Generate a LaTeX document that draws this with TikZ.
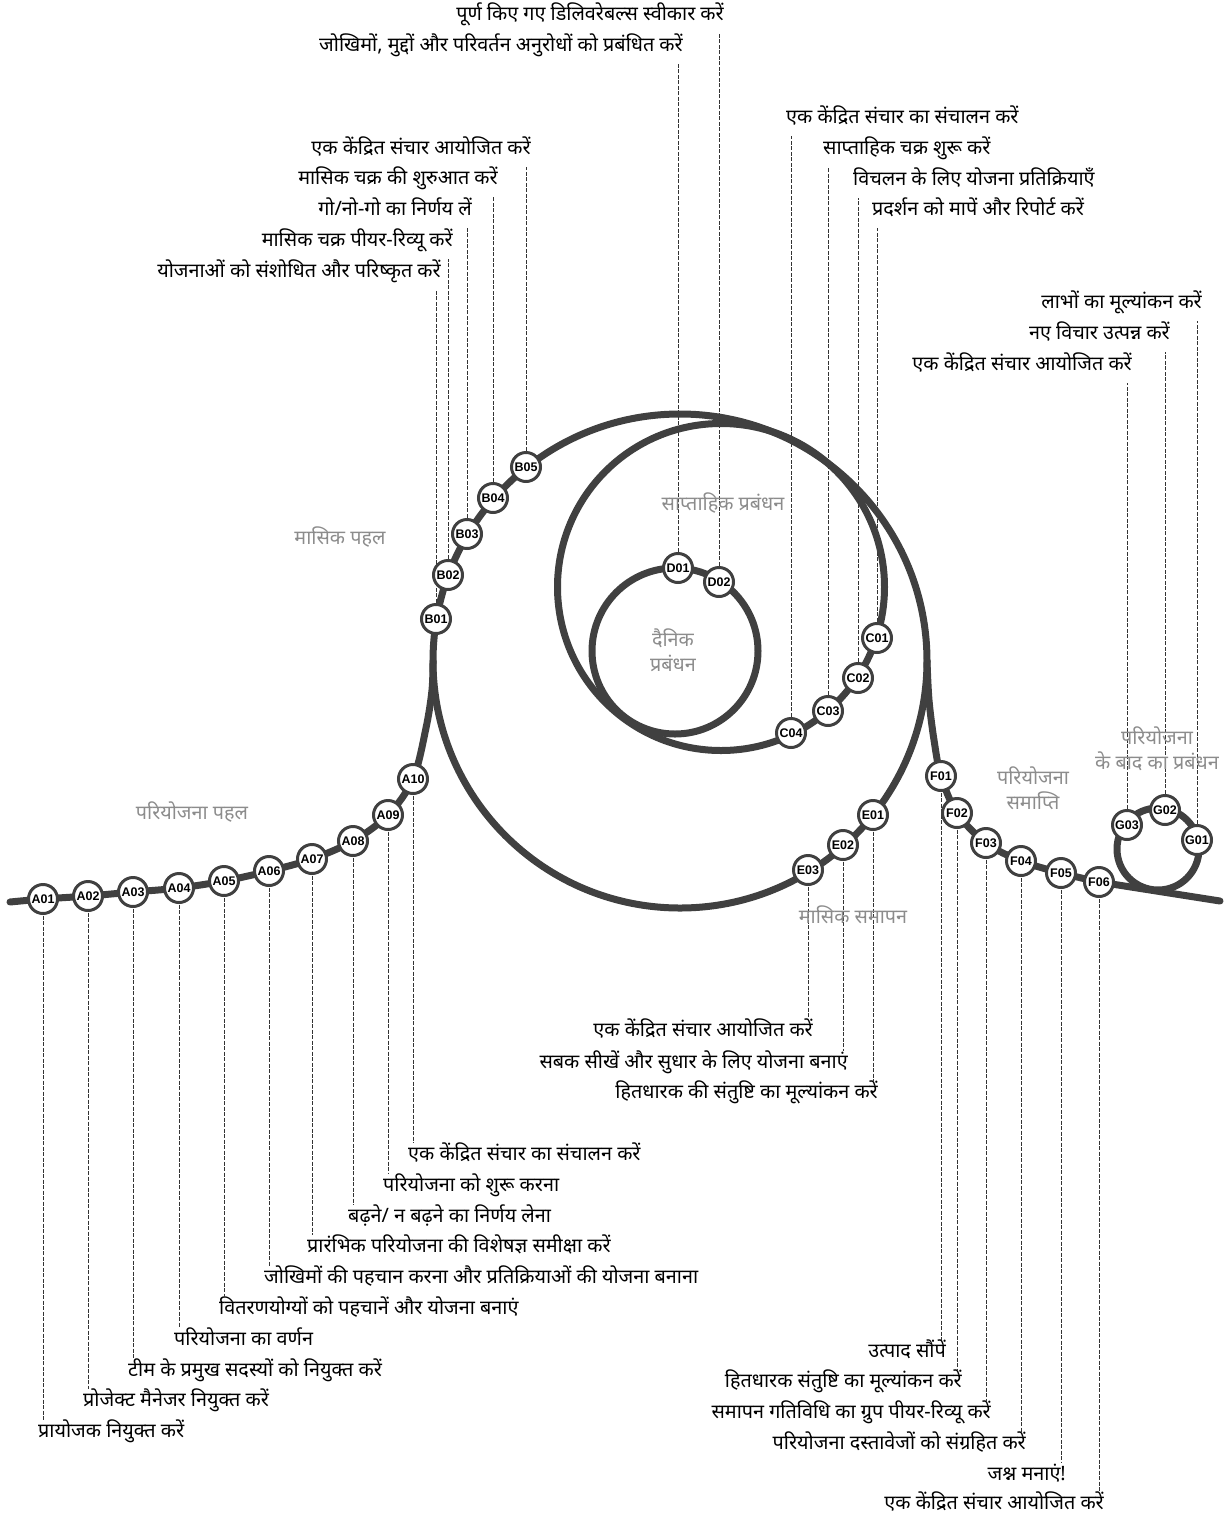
\documentclass[tikz,border=0pt]{standalone}
\usepackage{fontspec}
\newfontfamily\deva[Script=Devanagari]{Noto Sans}
\newfontfamily\codefont{Liberation Sans}
\usetikzlibrary{calc}
\definecolor{trackc}{HTML}{404040}
\definecolor{leadc}{HTML}{333333}
\definecolor{phasec}{HTML}{8C8C8C}
\tikzset{
  track/.style={draw=trackc, line width=7pt, line cap=round},
  stopnode/.style={circle, draw=trackc, fill=white, line width=3pt, minimum size=29pt, inner sep=0pt, font=\codefont\bfseries\fontsize{12.5}{12.5}\selectfont},
  leader/.style={draw=leadc, line width=0.8pt, dash pattern=on 4pt off 1.5pt},
  lbl/.style={font=\deva\fontsize{19.8}{22}\selectfont, inner sep=0pt, text height=14pt, text depth=6pt},
  phaselbl/.style={font=\deva\fontsize{19.8}{25}\selectfont, text=phasec, align=center, inner sep=0pt}
}
\begin{document}
\begin{tikzpicture}[x=1pt,y=-1pt]
\useasboundingbox (0,0) rectangle (1229,1519);
% stop positions
\foreach \n/\x/\y in {A01/43/899,A02/88/896,A03/133/892,A04/179/888,A05/224/881,A06/269/871,A07/312/859,A08/353/841,A09/388/815,A10/413/779,
  B01/436/619,B02/448/575,B03/467/534,B04/493/498,B05/526/467,
  C01/877/638,C02/858/678,C03/828/711,C04/791/733,
  D01/678/568,D02/719/582,
  E01/873/815,E02/843/845,E03/808/870,
  F01/941/776,F02/957/813,F03/986/843,F04/1021/861,F05/1061/873,F06/1099/882,
  G01/1197/840,G02/1165/810,G03/1127/825}
  \coordinate (p\n) at (\x,\y);

% labels: project initiation
\node[lbl,anchor=west] (tA01) at (38,1433) {प्रायोजक नियुक्त करें};
\node[lbl,anchor=west] (tA02) at (83,1402) {प्रोजेक्ट मैनेजर नियुक्त करें};
\node[lbl,anchor=west] (tA03) at (128,1372) {टीम के प्रमुख सदस्यों को नियुक्त करें};
\node[lbl,anchor=west] (tA04) at (174,1341) {परियोजना का वर्णन};
\node[lbl,anchor=west] (tA05) at (219,1310) {वितरणयोग्यों को पहचानें और योजना बनाएं};
\node[lbl,anchor=west] (tA06) at (264,1279) {जोखिमों की पहचान करना और प्रतिक्रियाओं की योजना बनाना};
\node[lbl,anchor=west] (tA07) at (307,1248) {प्रारंभिक परियोजना की विशेषज्ञ समीक्षा करें};
\node[lbl,anchor=west] (tA08) at (348,1218) {बढ़ने/ न बढ़ने का निर्णय लेना};
\node[lbl,anchor=west] (tA09) at (383,1187) {परियोजना को शुरू करना};
\node[lbl,anchor=west] (tA10) at (408,1156) {एक केंद्रित संचार का संचालन करें};
% monthly closing
\node[lbl,anchor=east] (tE03) at (813,1032) {एक केंद्रित संचार आयोजित करें};
\node[lbl,anchor=east] (tE02) at (848,1064) {सबक सीखें और सुधार के लिए योजना बनाएं};
\node[lbl,anchor=east] (tE01) at (878,1094) {हितधारक की संतुष्टि का मूल्यांकन करें};
% project closing
\node[lbl,anchor=east] (tF01) at (946,1353) {उत्पाद सौंपें};
\node[lbl,anchor=east] (tF02) at (962,1383) {हितधारक संतुष्टि का मूल्यांकन करें};
\node[lbl,anchor=east] (tF03) at (991,1414) {समापन गतिविधि का ग्रुप पीयर-रिव्यू करें};
\node[lbl,anchor=east] (tF04) at (1026,1445) {परियोजना दस्तावेजों को संग्रहित करें};
\node[lbl,anchor=east] (tF05) at (1066,1476) {जश्न मनाएं!};
\node[lbl,anchor=east] (tF06) at (1104,1505) {एक केंद्रित संचार आयोजित करें};
% monthly initiation
\node[lbl,anchor=east] (tB01) at (441,273) {योजनाओं को संशोधित और परिष्कृत करें};
\node[lbl,anchor=east] (tB02) at (453,242) {मासिक चक्र पीयर-रिव्यू करें};
\node[lbl,anchor=east] (tB03) at (472,211) {गो/नो-गो का निर्णय लें};
\node[lbl,anchor=east] (tB04) at (498,180) {मासिक चक्र की शुरुआत करें};
\node[lbl,anchor=east] (tB05) at (531,150) {एक केंद्रित संचार आयोजित करें};
% daily
\node[lbl,anchor=east] (tD01) at (683,47) {जोखिमों, मुद्दों और परिवर्तन अनुरोधों को प्रबंधित करें};
\node[lbl,anchor=east] (tD02) at (724,16) {पूर्ण किए गए डिलिवरेबल्स स्वीकार करें};
% weekly
\node[lbl,anchor=west] (tC04) at (786,119) {एक केंद्रित संचार का संचालन करें};
\node[lbl,anchor=west] (tC03) at (823,150) {साप्ताहिक चक्र शुरू करें};
\node[lbl,anchor=west] (tC02) at (853,181) {विचलन के लिए योजना प्रतिक्रियाएँ};
\node[lbl,anchor=west] (tC01) at (872,211) {प्रदर्शन को मापें और रिपोर्ट करें};
% post project
\node[lbl,anchor=east] (tG01) at (1202,304) {लाभों का मूल्यांकन करें};
\node[lbl,anchor=east] (tG02) at (1170,335) {नए विचार उत्पन्न करें};
\node[lbl,anchor=east] (tG03) at (1132,366) {एक केंद्रित संचार आयोजित करें};

% leaders
\foreach \n in {A01,A02,A03,A04,A05,A06,A07,A08,A09,A10,E01,E02,E03,F01,F02,F03,F04,F05,F06}
  \draw[leader] (p\n) -- ($(p\n |- t\n.north)+(0,-3)$);
\foreach \n in {B01,B02,B03,B04,B05,C01,C02,C03,C04,D01,D02,G01,G02,G03}
  \draw[leader] (p\n) -- ($(p\n |- t\n.south)+(0,7)$);

% track
\draw[track] (680,661) circle (247);
\draw[track] (721,587) circle (163.5);
\draw[track] (675,651) circle (83);
\draw[track] (1158,849) circle (41);
\draw[track] plot[smooth, tension=0.55] coordinates {(10,902) (pA01) (pA02) (pA03) (pA04) (pA05) (pA06) (pA07) (pA08) (pA09) (pA10) (426,728) (432,690) (433,661)};
\draw[track] plot[smooth, tension=0.55] coordinates {(927,661) (929,700) (934,740) (pF01) (pF02) (pF03) (pF04) (pF05) (pF06)} -- (1220,901);

% stops
\foreach \n in {A01,A02,A03,A04,A05,A06,A07,A08,A09,A10,B01,B02,B03,B04,B05,C01,C02,C03,C04,D01,D02,E01,E02,E03,F01,F02,F03,F04,F05,F06,G01,G02,G03}
  \node[stopnode] (\n) at (p\n) {\n};

% phase labels
\node[phaselbl] (ph1) at (192,812) {परियोजना पहल};
\node[phaselbl] (ph2) at (340,537) {मासिक पहल};
\node[phaselbl] (ph3) at (723,503) {साप्ताहिक प्रबंधन};
\node[phaselbl] (ph4) at (673,650) {दैनिक\\प्रबंधन};
\node[phaselbl] (ph5) at (853,915) {मासिक समापन};
\node[phaselbl] (ph6) at (1033,788) {परियोजना\\समाप्ति};
\node[phaselbl] (ph7) at (1157,749) {परियोजना\\के बाद का प्रबंधन};
\end{tikzpicture}
\end{document}
